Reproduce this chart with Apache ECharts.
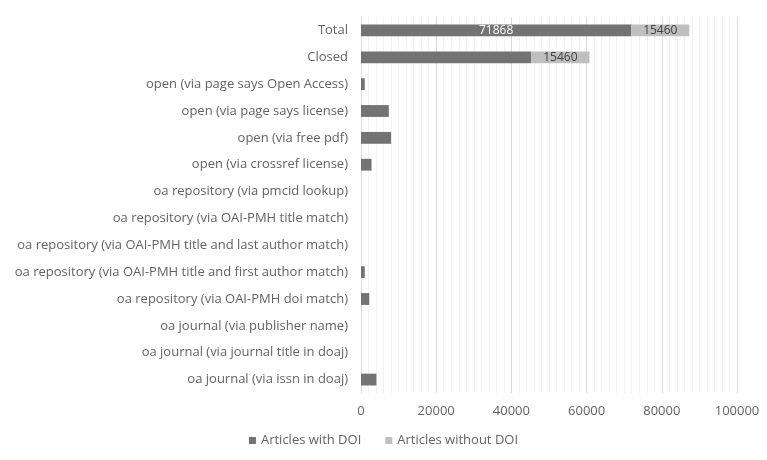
<!DOCTYPE html>
<html>
<head>
<meta charset="utf-8">
<script src="https://cdn.jsdelivr.net/npm/echarts@6/dist/echarts.min.js"></script>
<style>
  html, body { margin: 0; padding: 0; background: #ffffff; }
  #chart { width: 767px; height: 460px; }
</style>
</head>
<body>
<div id="chart"></div>
<script>
  // categories, bottom to top (echarts draws the first category at the bottom)
  const categories = [
    'oa journal (via issn in doaj)',
    'oa journal (via journal title in doaj)',
    'oa journal (via publisher name)',
    'oa repository (via OAI-PMH doi match)',
    'oa repository (via OAI-PMH title and first author match)',
    'oa repository (via OAI-PMH title and last author match)',
    'oa repository (via OAI-PMH title match)',
    'oa repository (via pmcid lookup)',
    'open (via crossref license)',
    'open (via free pdf)',
    'open (via page says license)',
    'open (via page says Open Access)',
    'Closed',
    'Total'
  ];
  const withDoi    = [4100, 0, 0, 2200, 1000, 0, 0, 0, 2800, 8000, 7400, 1000, 45300, 71868];
  const withoutDoi = [0, 0, 0, 0, 0, 0, 0, 0, 0, 0, 0, 0, 15460, 15460];
  // which bars carry a value label
  const labelWith    = ['Total'];
  const labelWithout = ['Closed', 'Total'];
  const xTicks = [0, 20000, 40000, 60000, 80000, 100000];

  const font = '"Open Sans", "DejaVu Sans", sans-serif';

  let myChart = echarts.init(document.getElementById('chart'));

  let option = {
    animation: false,
    textStyle: { fontFamily: font },
    legend: {
      bottom: 8,
      left: 'center',
      itemWidth: 7,
      itemHeight: 7,
      itemGap: 24,
      icon: 'rect',
      textStyle: { color: '#636363', fontSize: 13, fontFamily: font },
      data: ['Articles with DOI', 'Articles without DOI']
    },
    grid: { left: 361, right: 30, top: 17, bottom: 67 },
    xAxis: {
      type: 'value',
      min: 0,
      max: xTicks[xTicks.length - 1],
      interval: 20000,
      axisLine: { show: false },
      axisTick: { show: false },
      axisLabel: { color: '#636363', fontSize: 13, margin: 12, formatter: v => String(v) },
      splitLine: { show: true, lineStyle: { color: '#d9d9d9', width: 1 } },
      minorTick: { show: false, splitNumber: 10 },
      minorSplitLine: { show: true, lineStyle: { color: '#f2f2f2', width: 1 } }
    },
    yAxis: {
      type: 'category',
      data: categories,
      axisLine: { show: true, lineStyle: { color: '#d9d9d9' } },
      axisTick: { show: false },
      axisLabel: { color: '#636363', fontSize: 13, margin: 13 }
    },
    series: [
      {
        name: 'Articles with DOI',
        type: 'bar',
        stack: 'all',
        barCategoryGap: '56%',
        itemStyle: { color: '#737373' },
        label: {
          show: true,
          color: '#ffffff',
          fontSize: 12,
          formatter: p => labelWith.includes(p.name) ? p.value : ''
        },
        data: withDoi
      },
      {
        name: 'Articles without DOI',
        type: 'bar',
        stack: 'all',
        barCategoryGap: '56%',
        itemStyle: { color: '#bfbfbf' },
        label: {
          show: true,
          color: '#404040',
          fontSize: 12,
          formatter: p => labelWithout.includes(p.name) ? p.value : ''
        },
        data: withoutDoi
      }
    ]
  };

  myChart.setOption(option);
  window.addEventListener('resize', function () { myChart.resize(); });
</script>
</body>
</html>
